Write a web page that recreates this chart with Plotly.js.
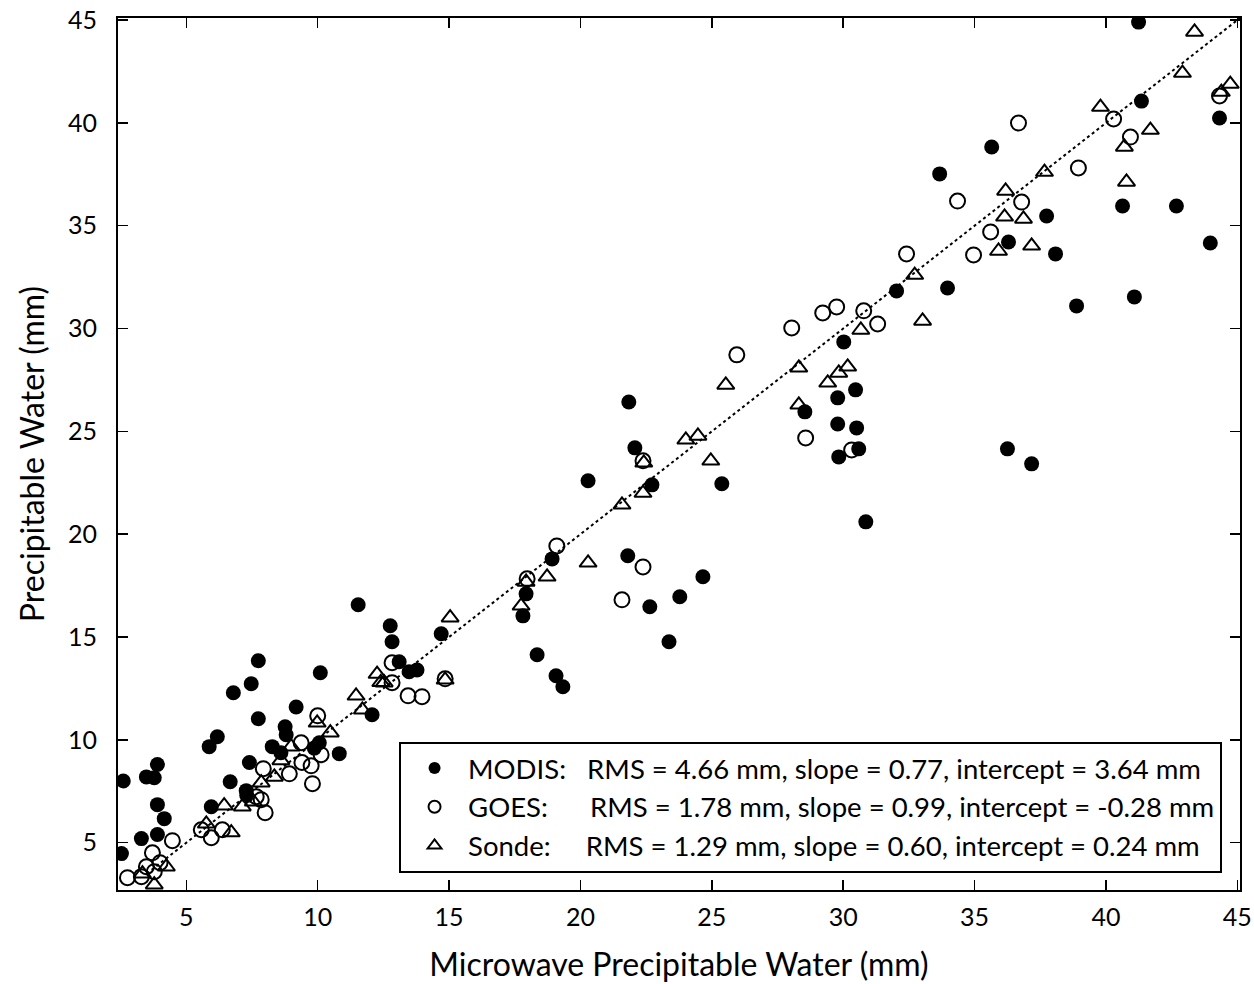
<!DOCTYPE html>
<html>
<head>
<meta charset="utf-8">
<script src="https://cdn.plot.ly/plotly-3.0.1.min.js"></script>
<style>html,body{margin:0;padding:0;background:#fff;}#chart{width:1254px;height:984px;}</style>
</head>
<body>
<div id="chart"></div>
<script>
const modisX = [2.6, 2.53, 3.29, 3.9, 4.16, 3.9, 3.48, 3.78, 3.9, 5.87, 6.18, 5.95, 6.67, 7.28, 7.3, 7.4, 6.79, 7.47, 7.74, 7.74, 8.27, 8.6, 8.76, 8.8, 9.18, 9.87, 10.06, 10.1, 10.82, 11.54, 12.07, 12.76, 12.83, 13.1, 13.48, 13.78, 14.7, 17.81, 17.93, 18.35, 18.92, 19.07, 19.33, 20.29, 21.8, 21.84, 22.07, 22.72, 22.64, 23.37, 23.78, 24.66, 25.38, 28.54, 29.79, 30.47, 29.79, 30.51, 29.83, 30.59, 30.86, 30.02, 32.03, 33.97, 33.67, 35.65, 36.29, 36.25, 37.17, 37.74, 38.08, 38.88, 40.63, 41.08, 41.24, 41.35, 42.68, 43.97, 44.32];
const modisY = [8.0, 4.47, 5.2, 5.4, 6.17, 6.85, 8.2, 8.16, 8.8, 9.67, 10.15, 6.75, 7.96, 7.53, 7.3, 8.9, 12.29, 12.73, 13.85, 11.03, 9.67, 9.37, 10.64, 10.25, 11.6, 9.6, 9.86, 13.26, 9.33, 16.57, 11.22, 15.55, 14.77, 13.8, 13.31, 13.4, 15.16, 16.03, 17.1, 14.14, 18.8, 13.12, 12.58, 22.6, 18.95, 26.43, 24.2, 22.4, 16.47, 14.77, 16.96, 17.93, 22.45, 25.95, 26.63, 27.02, 25.36, 25.17, 23.76, 24.15, 20.6, 29.35, 31.83, 31.97, 37.52, 38.83, 34.21, 24.15, 23.42, 35.47, 33.63, 31.1, 35.96, 31.54, 44.9, 41.06, 35.96, 34.16, 40.24];

const goesX = [2.76, 3.29, 3.48, 3.71, 3.78, 4.0, 4.47, 5.57, 5.95, 6.37, 7.66, 7.85, 8.0, 7.93, 8.92, 9.4, 9.75, 9.8, 9.37, 10.0, 10.13, 12.83, 12.83, 13.44, 13.97, 14.85, 17.97, 19.1, 21.58, 22.38, 22.38, 25.95, 28.04, 28.57, 29.22, 29.75, 30.32, 30.78, 31.31, 32.41, 34.35, 34.96, 35.61, 36.67, 36.79, 38.95, 40.29, 40.93, 44.32];
const goesY = [3.3, 3.35, 3.83, 4.51, 3.59, 4.03, 5.1, 5.63, 5.24, 5.63, 7.24, 7.09, 6.46, 8.6, 8.35, 8.9, 8.74, 7.87, 9.86, 11.17, 9.28, 12.78, 13.75, 12.14, 12.1, 12.97, 17.83, 19.43, 16.81, 18.41, 23.57, 28.72, 30.03, 24.68, 30.76, 31.05, 24.1, 30.86, 30.22, 33.63, 36.2, 33.58, 34.7, 39.99, 36.15, 37.81, 40.19, 39.31, 41.31];

const sondeX = [3.33, 3.78, 4.24, 5.76, 6.71, 6.44, 7.13, 7.55, 7.85, 8.35, 8.6, 8.99, 9.98, 10.48, 11.46, 11.7, 12.26, 12.4, 12.53, 14.85, 15.04, 17.74, 17.93, 18.73, 20.29, 21.58, 22.38, 22.41, 24.01, 24.47, 24.96, 25.53, 28.31, 28.31, 29.41, 29.83, 30.17, 30.67, 32.72, 33.02, 35.91, 36.14, 36.18, 36.86, 37.17, 37.66, 39.79, 40.7, 40.78, 41.69, 42.91, 43.37, 44.39, 44.73];
const sondeY = [3.49, 2.96, 3.83, 5.92, 5.49, 6.8, 6.75, 6.99, 7.92, 8.2, 9.0, 9.67, 10.83, 10.35, 12.14, 11.46, 13.2, 12.8, 12.78, 12.92, 15.94, 16.52, 17.68, 17.93, 18.61, 21.43, 22.0, 23.47, 24.59, 24.78, 23.57, 27.26, 28.09, 26.29, 27.36, 27.84, 28.14, 29.93, 32.6, 30.37, 33.77, 35.43, 36.69, 35.33, 34.02, 37.61, 40.77, 38.83, 37.13, 39.65, 42.42, 44.42, 41.5, 41.89];

const oneToOne = [3.5, 45.1];
const seriesLabels = ["MODIS:", "GOES:", "Sonde:"];
const seriesStats = [
  "RMS = 4.66 mm, slope = 0.77, intercept = 3.64 mm",
  "RMS = 1.78 mm, slope = 0.99, intercept = -0.28 mm",
  "RMS = 1.29 mm, slope = 0.60, intercept = 0.24 mm"
];
const xTitle = "Microwave Precipitable Water (mm)";
const yTitle = "Precipitable Water (mm)";
const tickVals = [5, 10, 15, 20, 25, 30, 35, 40, 45];

const FONT = "Lato, 'Open Sans', sans-serif";
const pads = ["\u00a0".repeat(3), "\u00a0".repeat(6), "\u00a0".repeat(5)];
function legendName(i) { return seriesLabels[i] + pads[i] + seriesStats[i]; }

const traces = [
  {x: oneToOne, y: oneToOne, mode: 'lines', line: {color: '#000', width: 2, dash: 'dot'}, showlegend: false, hoverinfo: 'skip'},
  {x: modisX, y: modisY, mode: 'markers', name: legendName(0), legendgroup: 'a',
   marker: {symbol: 'circle', size: 15, color: '#000', line: {width: 0}}},
  {x: goesX, y: goesY, mode: 'markers', name: legendName(1), legendgroup: 'b',
   marker: {symbol: 'circle-open', size: 15, color: '#000', line: {width: 2, color: '#000'}}},
  {x: sondeX, y: sondeY, mode: 'markers', name: legendName(2), legendgroup: 'c',
   marker: {symbol: 'triangle-up-open', size: 15, color: '#000', line: {width: 2, color: '#000'}}}
];

const axisCommon = {
  showline: true, linecolor: '#000', linewidth: 2, mirror: 'ticks',
  ticks: 'inside', ticklen: 10, tickwidth: 1.5, tickcolor: '#000',
  showgrid: false, zeroline: false,
  tickvals: tickVals, ticktext: tickVals.map(String),
  tickfont: {family: FONT, size: 25, color: '#000'}
};

const layout = {
  width: 1254, height: 984,
  paper_bgcolor: '#fff', plot_bgcolor: '#fff',
  margin: {l: 118, r: 14, t: 18, b: 94},
  font: {family: FONT, color: '#000'},
  xaxis: Object.assign({}, axisCommon, {
    range: [2.4, 45.1], ticklabelstandoff: 4,
    title: {text: xTitle, font: {family: FONT, size: 32, color: '#000'}, standoff: 24}
  }),
  yaxis: Object.assign({}, axisCommon, {
    range: [2.7, 45.1], ticklabelstandoff: 14,
    title: {text: yTitle, font: {family: FONT, size: 32, color: '#000'}, standoff: 14}
  }),
  showlegend: true,
  legend: {
    x: 0.984, xanchor: 'right', y: 0.02, yanchor: 'bottom',
    bgcolor: '#fff', bordercolor: '#000', borderwidth: 2,
    font: {family: FONT, size: 27.5, color: '#000'},
    traceorder: 'grouped', tracegroupgap: 0, itemsizing: 'constant', itemwidth: 57
  }
};

Plotly.newPlot('chart', traces, layout, {staticPlot: true, displayModeBar: false});
</script>
</body>
</html>
